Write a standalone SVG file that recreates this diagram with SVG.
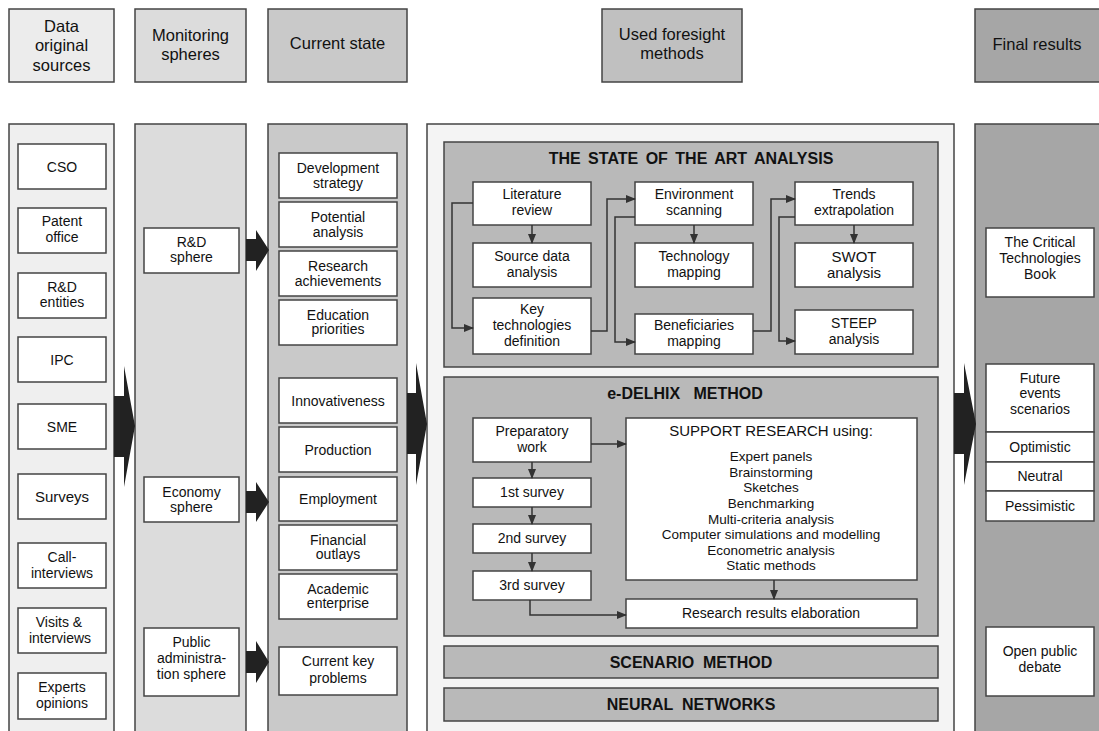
<svg xmlns="http://www.w3.org/2000/svg" width="1099" height="731" viewBox="0 0 1099 731">
<defs>
<style>
text{font-family:"Liberation Sans",Arial,sans-serif;fill:#111;text-anchor:middle}
.t{font-size:14px}
.h{font-size:16.5px}
.b{font-size:16px;font-weight:bold}
.s{font-size:13.5px}
.box{fill:#fff;stroke:#444;stroke-width:1.5}
.col{stroke:#444;stroke-width:1.5}
.pan{fill:#b9b9b9;stroke:#444;stroke-width:1.5}
.ln{fill:none;stroke:#333;stroke-width:1.5}
.big{fill:#222}
</style>
<marker id="ah" markerWidth="10" markerHeight="8" refX="9" refY="4" orient="auto" markerUnits="userSpaceOnUse">
<path d="M0,0 L10,4 L0,8 Z" fill="#333"/>
</marker>
</defs>

<g id="headers">
<g id="h1"><rect x="9" y="9" width="105" height="73" class="col" fill="#ececec"/>
<text class="h" x="61.5" y="32">Data</text><text class="h" x="61.5" y="51">original</text><text class="h" x="61.5" y="71">sources</text></g>
<g id="h2"><rect x="135" y="9" width="111" height="73" class="col" fill="#dcdcdc"/>
<text class="h" x="190.5" y="41">Monitoring</text><text class="h" x="190.5" y="60">spheres</text></g>
<g id="h3"><rect x="268" y="9" width="139" height="73" class="col" fill="#c9c9c9"/>
<text class="h" x="337.5" y="49">Current state</text></g>
<g id="h4"><rect x="602" y="9" width="140" height="73" class="col" fill="#c0c0c0"/>
<text class="h" x="672" y="40">Used foresight</text><text class="h" x="672" y="59">methods</text></g>
<g id="h5"><rect x="975" y="9" width="130" height="73" class="col" fill="#a6a6a6"/>
<text class="h" x="1037" y="50">Final results</text></g>
</g>

<g id="columns">
<rect x="9" y="124" width="105" height="620" class="col" fill="#efefef"/>
<rect x="135" y="124" width="111" height="620" class="col" fill="#dcdcdc"/>
<rect x="268" y="124" width="139" height="620" class="col" fill="#c9c9c9"/>
<rect x="427" y="124" width="527" height="620" class="col" fill="#f4f4f4"/>
<rect x="975" y="124" width="130" height="620" class="col" fill="#a6a6a6"/>
</g>

<g id="sources">
<g id="cso"><rect x="18" y="144" width="88" height="45" class="box"/><text class="t" x="62" y="171.5">CSO</text></g>
<g id="patent"><rect x="18" y="208" width="88" height="45" class="box"/><text class="t" x="62" y="226">Patent</text><text class="t" x="62" y="242">office</text></g>
<g id="rdent"><rect x="18" y="273" width="88" height="45" class="box"/><text class="t" x="62" y="292">R&amp;D</text><text class="t" x="62" y="307">entities</text></g>
<g id="ipc"><rect x="18" y="337" width="88" height="45" class="box"/><text class="t" x="62" y="364.5">IPC</text></g>
<g id="sme"><rect x="18" y="404" width="88" height="45" class="box"/><text class="t" x="62" y="431.5">SME</text></g>
<g id="surveys"><rect x="18" y="474" width="88" height="45" class="box"/><text x="62" y="502" style="font-size:15px">Surveys</text></g>
<g id="call"><rect x="18" y="543" width="88" height="45" class="box"/><text class="t" x="62" y="562">Call-</text><text class="t" x="62" y="578">interviews</text></g>
<g id="visits"><rect x="18" y="608" width="88" height="45" class="box"/><text class="t" x="59" y="627">Visits &amp;</text><text class="t" x="60" y="643">interviews</text></g>
<g id="experts"><rect x="18" y="673" width="88" height="46" class="box"/><text class="t" x="62" y="692">Experts</text><text class="t" x="62" y="708">opinions</text></g>
</g>

<g id="spheres">
<g id="rd"><rect x="144" y="228" width="95" height="45" class="box"/><text class="t" x="191.5" y="247">R&amp;D</text><text class="t" x="191.5" y="262">sphere</text></g>
<g id="eco"><rect x="144" y="477" width="95" height="45" class="box"/><text class="t" x="191.5" y="497">Economy</text><text class="t" x="191.5" y="512">sphere</text></g>
<g id="pub"><rect x="144" y="628" width="95" height="68" class="box"/><text class="t" x="191.5" y="647">Public</text><text class="t" x="191.5" y="663">administra-</text><text class="t" x="191.5" y="679">tion sphere</text></g>
</g>

<g id="state">
<g id="dev"><rect x="279" y="153" width="118" height="45" class="box"/><text class="t" x="338" y="173">Development</text><text class="t" x="338" y="188">strategy</text></g>
<g id="pot"><rect x="279" y="202" width="118" height="45" class="box"/><text class="t" x="338" y="222">Potential</text><text class="t" x="338" y="237">analysis</text></g>
<g id="res"><rect x="279" y="251" width="118" height="45" class="box"/><text class="t" x="338" y="271">Research</text><text class="t" x="338" y="286">achievements</text></g>
<g id="edu"><rect x="279" y="300" width="118" height="45" class="box"/><text class="t" x="338" y="320">Education</text><text class="t" x="338" y="334">priorities</text></g>
<g id="inn"><rect x="279" y="378" width="118" height="45" class="box"/><text class="t" x="338" y="405.5">Innovativeness</text></g>
<g id="prod"><rect x="279" y="427" width="118" height="45" class="box"/><text class="t" x="338" y="455">Production</text></g>
<g id="emp"><rect x="279" y="477" width="118" height="44" class="box"/><text class="t" x="338" y="504">Employment</text></g>
<g id="fin"><rect x="279" y="525" width="118" height="45" class="box"/><text class="t" x="338" y="545">Financial</text><text class="t" x="338" y="559">outlays</text></g>
<g id="acad"><rect x="279" y="574" width="118" height="45" class="box"/><text class="t" x="338" y="594">Academic</text><text class="t" x="338" y="608">enterprise</text></g>
<g id="ckp"><rect x="279" y="647" width="118" height="48" class="box"/><text class="t" x="338" y="666">Current key</text><text class="t" x="338" y="683">problems</text></g>
</g>

<g id="methods">
<g id="sota"><rect x="444" y="142" width="494" height="225" class="pan"/>
<text class="b" x="691" y="164" style="word-spacing:3px">THE STATE OF THE ART ANALYSIS</text></g>
<g id="lit"><rect x="473" y="182" width="118" height="43" class="box"/><text class="t" x="532" y="199">Literature</text><text class="t" x="532" y="215">review</text></g>
<g id="src"><rect x="473" y="243" width="118" height="44" class="box"/><text class="t" x="532" y="261">Source data</text><text class="t" x="532" y="277">analysis</text></g>
<g id="key"><rect x="473" y="298" width="118" height="56" class="box"/><text class="t" x="532" y="314">Key</text><text class="t" x="532" y="330">technologies</text><text class="t" x="532" y="346">definition</text></g>
<g id="env"><rect x="635" y="182" width="118" height="43" class="box"/><text class="t" x="694" y="199">Environment</text><text class="t" x="694" y="215">scanning</text></g>
<g id="tech"><rect x="635" y="243" width="118" height="44" class="box"/><text class="t" x="694" y="261">Technology</text><text class="t" x="694" y="277">mapping</text></g>
<g id="ben"><rect x="635" y="314" width="118" height="40" class="box"/><text class="t" x="694" y="330">Beneficiaries</text><text class="t" x="694" y="346">mapping</text></g>
<g id="trend"><rect x="795" y="182" width="118" height="43" class="box"/><text class="t" x="854" y="199">Trends</text><text class="t" x="854" y="215">extrapolation</text></g>
<g id="swot"><rect x="795" y="243" width="118" height="44" class="box"/><text x="854" y="262" style="font-size:15px">SWOT</text><text x="854" y="278" style="font-size:15px">analysis</text></g>
<g id="steep"><rect x="795" y="310" width="118" height="44" class="box"/><text class="t" x="854" y="328">STEEP</text><text class="t" x="854" y="344">analysis</text></g>

<g id="delhix"><rect x="444" y="377" width="494" height="259" class="pan"/>
<text class="b" x="685" y="399" xml:space="preserve">e-DELHIX   METHOD</text></g>
<g id="prep"><rect x="473" y="418" width="118" height="44" class="box"/><text class="t" x="532" y="436">Preparatory</text><text class="t" x="532" y="452">work</text></g>
<g id="s1"><rect x="473" y="478" width="118" height="29" class="box"/><text class="t" x="532" y="497">1st survey</text></g>
<g id="s2"><rect x="473" y="524" width="118" height="29" class="box"/><text class="t" x="532" y="543">2nd survey</text></g>
<g id="s3"><rect x="473" y="571" width="118" height="29" class="box"/><text class="t" x="532" y="590">3rd survey</text></g>
<g id="support"><rect x="626" y="418" width="291" height="162" class="box"/>
<text x="771" y="436" style="font-size:15px">SUPPORT RESEARCH using:</text>
<text class="s" x="771" y="461">Expert panels</text>
<text class="s" x="771" y="477">Brainstorming</text>
<text class="s" x="771" y="492">Sketches</text>
<text class="s" x="771" y="508">Benchmarking</text>
<text class="s" x="771" y="524">Multi-criteria analysis</text>
<text class="s" x="771" y="539">Computer simulations and modelling</text>
<text class="s" x="771" y="555">Econometric analysis</text>
<text class="s" x="771" y="570">Static methods</text></g>
<g id="rre"><rect x="626" y="599" width="291" height="29" class="box"/><text class="t" x="771" y="618">Research results elaboration</text></g>

<g id="scen"><rect x="444" y="646" width="494" height="32" class="pan"/><text class="b" x="691" y="668" xml:space="preserve">SCENARIO  METHOD</text></g>
<g id="neural"><rect x="444" y="688" width="494" height="33" class="pan"/><text class="b" x="691" y="710" xml:space="preserve">NEURAL  NETWORKS</text></g>
</g>

<g id="results">
<g id="book"><rect x="986" y="228" width="108" height="69" class="box"/><text class="t" x="1040" y="247">The Critical</text><text class="t" x="1040" y="263">Technologies</text><text class="t" x="1040" y="279">Book</text></g>
<g id="future"><rect x="986" y="364" width="108" height="68" class="box"/><text class="t" x="1040" y="383">Future</text><text class="t" x="1040" y="398">events</text><text class="t" x="1040" y="414">scenarios</text></g>
<g id="opt"><rect x="986" y="432" width="108" height="30" class="box"/><text class="t" x="1040" y="452">Optimistic</text></g>
<g id="neu"><rect x="986" y="462" width="108" height="29" class="box"/><text class="t" x="1040" y="481">Neutral</text></g>
<g id="pes"><rect x="986" y="491" width="108" height="30" class="box"/><text class="t" x="1040" y="511">Pessimistic</text></g>
<g id="debate"><rect x="986" y="627" width="108" height="69" class="box"/><text class="t" x="1040" y="656">Open public</text><text class="t" x="1040" y="672">debate</text></g>
</g>

<g id="connectors">
<polygon class="big" points="114,396 124,396 124,366 135,426 124,487 124,457 114,457"/>
<polygon class="big" points="407,393 416,393 416,363 427,424 416,485 416,454 407,454"/>
<polygon class="big" points="954,393 964,393 964,363 976,424 964,485 964,454 954,454"/>
<polygon class="big" points="246,239 256,239 256,230 269,250 256,271 256,261 246,261"/>
<polygon class="big" points="246,491 256,491 256,482 269,502 256,522 256,513 246,513"/>
<polygon class="big" points="246,651 256,651 256,641 269,662 256,683 256,673 246,673"/>

<path class="ln" d="M532,225 V243" marker-end="url(#ah)"/>
<path class="ln" d="M473,203 H452 V328 H473" marker-end="url(#ah)"/>
<path class="ln" d="M591,331 H607 V199 H635" marker-end="url(#ah)"/>
<path class="ln" d="M635,217 H615 V342 H635" marker-end="url(#ah)"/>
<path class="ln" d="M694,225 V243" marker-end="url(#ah)"/>
<path class="ln" d="M753,331 H771 V199 H795" marker-end="url(#ah)"/>
<path class="ln" d="M795,217 H779 V341 H795" marker-end="url(#ah)"/>
<path class="ln" d="M854,225 V243" marker-end="url(#ah)"/>

<path class="ln" d="M591,444 H626" marker-end="url(#ah)"/>
<path class="ln" d="M532,462 V478" marker-end="url(#ah)"/>
<path class="ln" d="M532,507 V524" marker-end="url(#ah)"/>
<path class="ln" d="M532,553 V571" marker-end="url(#ah)"/>
<path class="ln" d="M530,600 V615 H626" marker-end="url(#ah)"/>
<path class="ln" d="M774,580 V599" marker-end="url(#ah)"/>
</g>
</svg>
